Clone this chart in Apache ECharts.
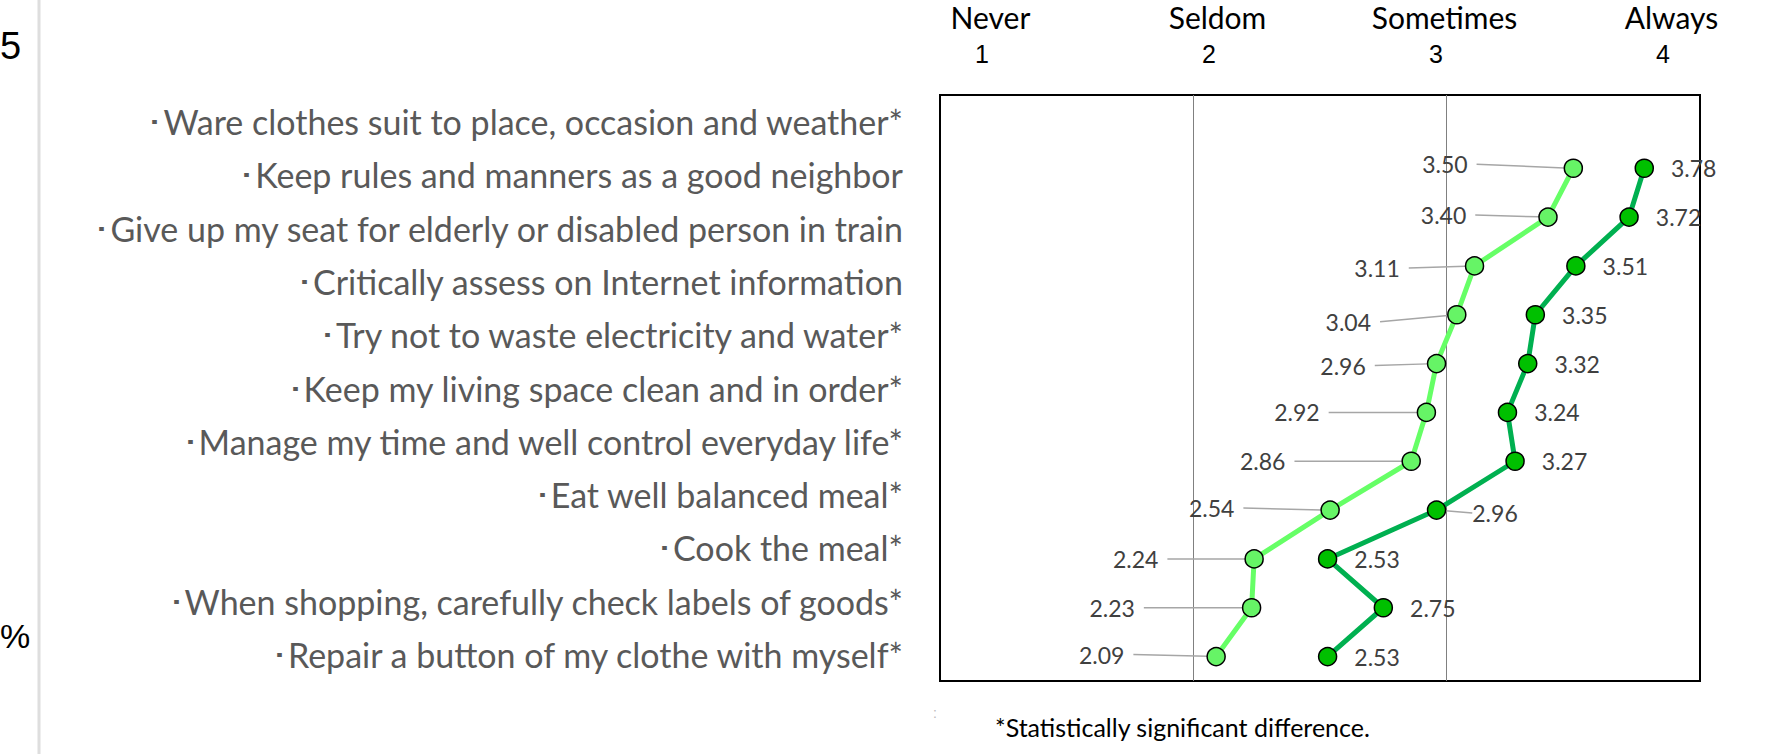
<!DOCTYPE html>
<html>
<head>
<meta charset="utf-8">
<script src="https://cdn.jsdelivr.net/npm/echarts@6/dist/echarts.min.js"></script>
<style>
  html, body { margin: 0; padding: 0; background: #fff; }
  #chart { width: 1779px; height: 754px; }
</style>
</head>
<body>
<div id="chart"></div>
<script>
const items = [
  'Ware clothes suit to place, occasion and weather*',
  'Keep rules and manners as a good neighbor',
  'Give up my seat for elderly or disabled person in train',
  'Critically assess on Internet information',
  'Try not to waste electricity and water*',
  'Keep my living space clean and in order*',
  'Manage my time and well control everyday life*',
  'Eat well balanced meal*',
  'Cook the meal*',
  'When shopping, carefully check labels of goods*',
  'Repair a button of my clothe with myself*'
]
const groupA = [3.50, 3.40, 3.11, 3.04, 2.96, 2.92, 2.86, 2.54, 2.24, 2.23, 2.09]
const groupB = [3.78, 3.72, 3.51, 3.35, 3.32, 3.24, 3.27, 2.96, 2.53, 2.75, 2.53]
const scaleValues = [1, 2, 3, 4]
const scaleNames = ['Never', 'Seldom', 'Sometimes', 'Always']
const footnote = '*Statistically significant difference.'

// data labels were dragged by hand in the original, keep the nudges (px)
const labelDxA = [-82, -58, -51, -62, -47, -83, -102, -72, -72, -93, -68]
const labelDyA = [-4, -2, 2, 7, 2, 0, 0, -2, 0, 0, -2]
const labelDxB = [0, 0, 0, 0, 0, 0, 0, 9, 0, 0, 0]
const labelDyB = [0, 0, 0, 0, 0, 0, 0, 3, 0, 0, 0]

// the plotted rows sit one slot lower than the text rows
const slots = [''].concat(items)

const chart = echarts.init(document.getElementById('chart'), null, { renderer: 'svg' })

function toData(vals, dx) {
  return vals.map((v, i) => ({
    value: [v, items[i]],
    labelLine: { show: dx[i] !== 0 }
  }))
}

const leader = { color: '#a6a6a6', width: 1.5 }
const valueFont = { fontFamily: 'Lato', fontSize: 23, color: '#404040' }

chart.setOption({
  animation: false,
  grid: [
    { left: 940, top: 95, width: 760, height: 586, show: true, borderColor: '#000', borderWidth: 2 },
    { left: 982, top: 95, width: 681, height: 586 }
  ],
  xAxis: [
    {
      gridIndex: 0, type: 'value', min: 1, max: 4, interval: 1, position: 'top',
      axisLine: { show: false }, axisTick: { show: false }, axisLabel: { show: false },
      splitLine: { show: true, showMinLine: false, showMaxLine: false, lineStyle: { color: '#808080', width: 1 } }
    },
    {
      gridIndex: 1, type: 'value', min: 1, max: 4, interval: 1, position: 'top',
      axisLine: { show: false }, axisTick: { show: false }, splitLine: { show: false },
      axisLabel: {
        margin: 24, showMinLabel: true, showMaxLabel: true,
        formatter: (v) => `{w|${scaleNames[scaleValues.indexOf(v)]}}\n{n|${v}}`,
        rich: {
          w: { fontFamily: 'Lato', fontSize: 30, color: '#000', lineHeight: 36, padding: [0, 0, 4, 17] },
          n: { fontFamily: 'Liberation Sans', fontSize: 25, color: '#000', lineHeight: 34 }
        }
      }
    }
  ],
  yAxis: [
    {
      gridIndex: 0, type: 'category', data: items, inverse: true,
      axisLine: { show: false }, axisTick: { show: false },
      axisLabel: {
        margin: 37, fontFamily: 'Lato', fontSize: 34, color: '#595959',
        formatter: (name) => '･' + name
      }
    },
    { gridIndex: 0, type: 'category', data: slots, inverse: true, show: false },
    { gridIndex: 1, type: 'value', show: false }
  ],
  series: [
    {
      name: 'A', type: 'line', xAxisIndex: 0, yAxisIndex: 1,
      data: toData(groupA, labelDxA),
      symbol: 'circle', symbolSize: 18,
      lineStyle: { color: '#66ff66', width: 5 },
      itemStyle: { color: '#66f466', borderColor: '#000', borderWidth: 1.5 },
      label: {
        show: true, position: 'left', distance: 5, padding: [0, 9, 0, 0],
        backgroundColor: 'rgba(255,255,255,0.01)',
        formatter: (p) => p.value[0].toFixed(2), ...valueFont
      },
      labelLine: { lineStyle: leader },
      labelLayout: (p) => ({ dx: labelDxA[p.dataIndex], dy: labelDyA[p.dataIndex] }),
      z: 3
    },
    {
      name: 'B', type: 'line', xAxisIndex: 0, yAxisIndex: 1,
      data: toData(groupB, labelDxB),
      symbol: 'circle', symbolSize: 18,
      lineStyle: { color: '#00b050', width: 5 },
      itemStyle: { color: '#00c000', borderColor: '#000', borderWidth: 1.5 },
      label: {
        show: true, position: 'right', distance: 17,
        formatter: (p) => p.value[0].toFixed(2), ...valueFont
      },
      labelLine: { lineStyle: leader },
      labelLayout: (p) => ({ dx: labelDxB[p.dataIndex], dy: labelDyB[p.dataIndex] }),
      z: 4
    }
  ],
  graphic: [
    { type: 'rect', shape: { x: 37.5, y: 0, width: 3, height: 754 }, style: { fill: '#dedede' }, silent: true },
    { type: 'text', left: 0, top: 27, style: { text: '5', fontSize: 38, fontFamily: 'Liberation Sans', fill: '#000' } },
    { type: 'text', left: 0, top: 619, style: { text: '%', fontSize: 34, fontFamily: 'Liberation Sans', fill: '#000' } },
    { type: 'text', left: 933, top: 706, style: { text: ':', fontSize: 14, fontFamily: 'Liberation Sans', fill: '#bbb' } },
    { type: 'text', left: 995, top: 714, style: { text: footnote, fontSize: 25, fontFamily: 'Lato', fill: '#000' } }
  ]
})
</script>
</body>
</html>
